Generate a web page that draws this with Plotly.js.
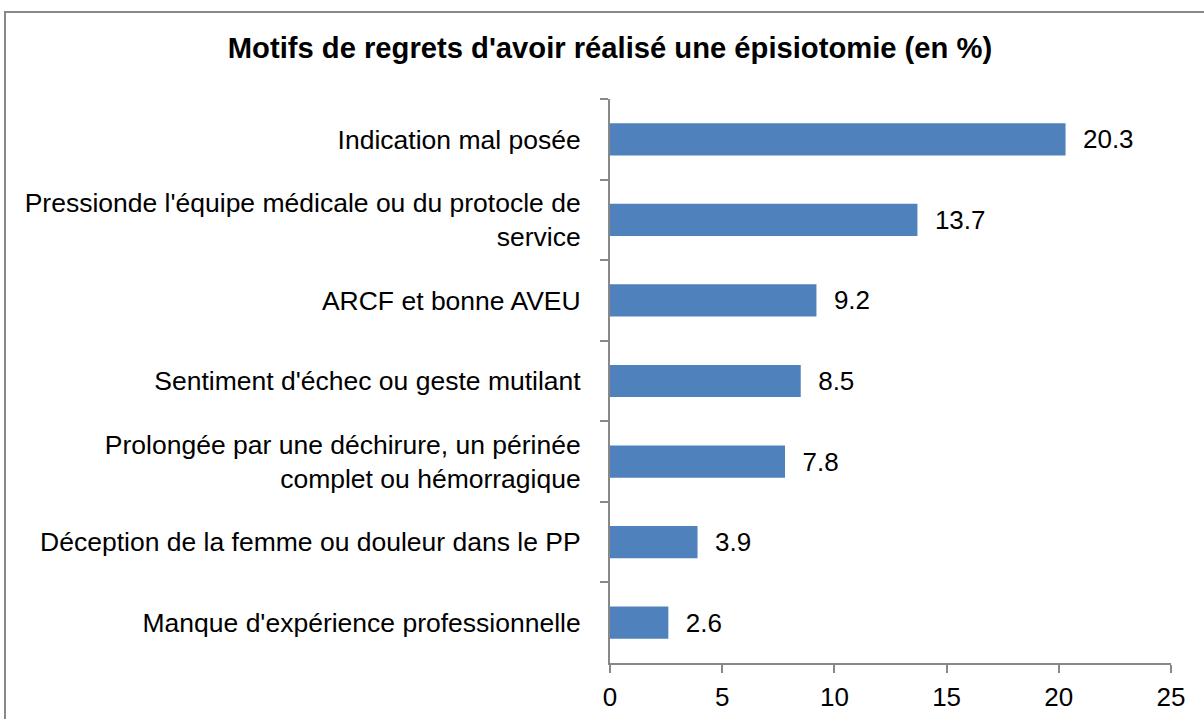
<!DOCTYPE html>
<html>
<head>
<meta charset="utf-8">
<script src="https://cdn.plot.ly/plotly-3.0.1.min.js"></script>
<style>
html,body{margin:0;padding:0;overflow:hidden;background:#fff;}
#frame{position:absolute;left:4px;top:11px;width:1300px;height:800px;border:2px solid #888888;pointer-events:none;}
#chart{position:absolute;left:0;top:0;width:1204px;height:719px;}
</style>
</head>
<body>
<div id="chart"></div>
<div id="frame"></div>
<script>
const categories = [
  "Indication mal posée",
  "Pressionde l'équipe médicale ou du protocle de<br>service",
  "ARCF et bonne AVEU",
  "Sentiment d'échec ou geste mutilant",
  "Prolongée par une déchirure, un périnée<br>complet ou hémorragique",
  "Déception de la femme ou douleur dans le PP",
  "Manque d'expérience professionnelle"
];
const values = [20.3, 13.7, 9.2, 8.5, 7.8, 3.9, 2.6];
const xTicks = [0, 5, 10, 15, 20, 25];
const titleText = "Motifs de regrets d'avoir réalisé une épisiotomie (en %)";

const font = "Liberation Sans, Arial, sans-serif";

Plotly.newPlot('chart', [{
  type: 'bar',
  orientation: 'h',
  x: values,
  y: categories,
  marker: {color: '#4F81BD', line: {color: '#4F81BD', width: 0}},
  texttemplate: '\u00a0\u00a0%{x:.1f}',
  textposition: 'outside',
  textfont: {family: font, size: 26, color: '#000'},
  cliponaxis: false,
  hoverinfo: 'none'
}], {
  width: 1204,
  height: 719,
  margin: {l: 610, r: 33, t: 99, b: 56, pad: 0},
  paper_bgcolor: '#fff',
  plot_bgcolor: '#fff',
  showlegend: false,
  bargap: 0.6,
  title: {
    text: '<b>' + titleText + '</b>',
    font: {family: font, size: 29.2, color: '#000'},
    x: 610/1204, xanchor: 'center', xref: 'container',
    y: 1 - 48/719, yanchor: 'middle', yref: 'container'
  },
  xaxis: {
    range: [0, 25],
    tickvals: xTicks,
    ticktext: xTicks.map(String),
    showgrid: false,
    zeroline: false,
    showline: true,
    linecolor: '#888888',
    linewidth: 2,
    ticks: 'outside',
    ticklen: 8,
    tickwidth: 2,
    tickcolor: '#888888',
    tickfont: {family: font, size: 26, color: '#000'},
    ticklabelstandoff: 2
  },
  yaxis: {
    type: 'category',
    categoryorder: 'array',
    categoryarray: categories,
    autorange: 'reversed',
    showgrid: false,
    zeroline: false,
    showline: true,
    linecolor: '#888888',
    linewidth: 2,
    ticks: 'outside',
    tickson: 'boundaries',
    ticklen: 8,
    tickwidth: 2,
    tickcolor: '#888888',
    tickfont: {family: font, size: 26.5, color: '#000'},
    ticklabelstandoff: 22
  }
}, {staticPlot: true});
</script>
</body>
</html>
